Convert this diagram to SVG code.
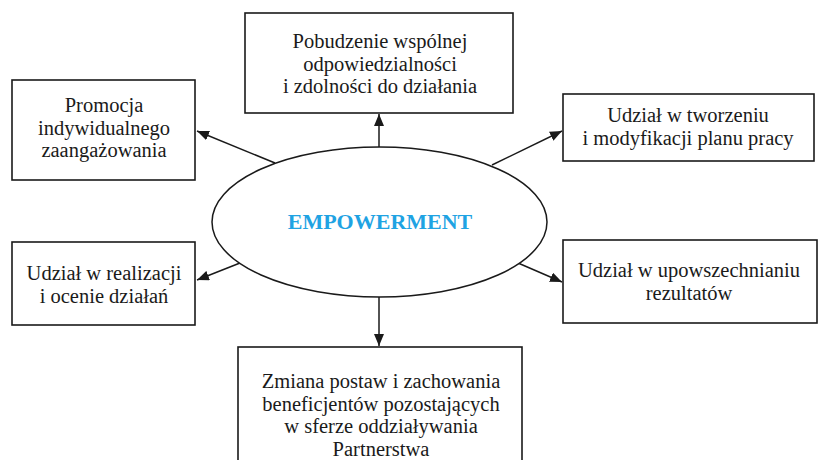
<svg xmlns="http://www.w3.org/2000/svg" width="820" height="460" viewBox="0 0 820 460">
<defs>
<style>
.box{fill:#fff;stroke:#1a1a1a;stroke-width:1.6}
.t{font-family:"Liberation Serif","Times New Roman",serif;font-size:20.5px;fill:#1a1a1a;text-anchor:middle}
.c{stroke:#1a1a1a;stroke-width:1.5;fill:none;marker-end:url(#ah)}
.em{font-family:"Liberation Serif","Times New Roman",serif;font-size:22px;font-weight:bold;fill:#1fa3e3;text-anchor:middle}
</style>
<marker id="ah" viewBox="0 0 12 10" refX="12" refY="5" markerWidth="12" markerHeight="10" markerUnits="userSpaceOnUse" orient="auto">
<path d="M0,0 L12,5 L0,10 Z" fill="#1a1a1a"/>
</marker>
</defs>
<rect width="820" height="460" fill="#fff"/>
<g id="connectors">
<line class="c" x1="379" y1="147" x2="379" y2="114"/>
<line class="c" x1="275" y1="163" x2="197" y2="131"/>
<line class="c" x1="492" y1="165" x2="562" y2="131"/>
<line class="c" x1="240" y1="263" x2="197" y2="280"/>
<line class="c" x1="518" y1="263" x2="562" y2="282"/>
<line class="c" x1="379" y1="297" x2="379" y2="346"/>
</g>
<g id="center">
<ellipse cx="379.5" cy="222" rx="167.5" ry="75" fill="#fff" stroke="#1a1a1a" stroke-width="1.5"/>
<text class="em" x="380" y="229">EMPOWERMENT</text>
</g>
<g id="top">
<rect class="box" x="245" y="13" width="268" height="100"/>
<text class="t" x="380" y="48">Pobudzenie wspólnej</text>
<text class="t" x="380" y="70.5">odpowiedzialności</text>
<text class="t" x="380" y="93">i zdolności do działania</text>
</g>
<g id="top-left">
<rect class="box" x="12" y="80" width="183" height="100"/>
<text class="t" x="104" y="112">Promocja</text>
<text class="t" x="104" y="134.5">indywidualnego</text>
<text class="t" x="104" y="157">zaangażowania</text>
</g>
<g id="top-right">
<rect class="box" x="563" y="94" width="251" height="67"/>
<text class="t" x="688" y="122">Udział w tworzeniu</text>
<text class="t" x="688" y="145">i modyfikacji planu pracy</text>
</g>
<g id="bottom-left">
<rect class="box" x="12" y="242" width="183" height="83"/>
<text class="t" x="104" y="280">Udział w realizacji</text>
<text class="t" x="104" y="302.5">i ocenie działań</text>
</g>
<g id="bottom-right">
<rect class="box" x="563" y="240" width="254" height="83"/>
<text class="t" x="689" y="277">Udział w upowszechnianiu</text>
<text class="t" x="689" y="300">rezultatów</text>
</g>
<g id="bottom">
<rect class="box" x="238" y="347" width="284" height="120"/>
<text class="t" x="381" y="388">Zmiana postaw i zachowania</text>
<text class="t" x="381" y="410.5">beneficjentów pozostających</text>
<text class="t" x="381" y="433">w sferze oddziaływania</text>
<text class="t" x="381" y="455.5">Partnerstwa</text>
</g>
</svg>
